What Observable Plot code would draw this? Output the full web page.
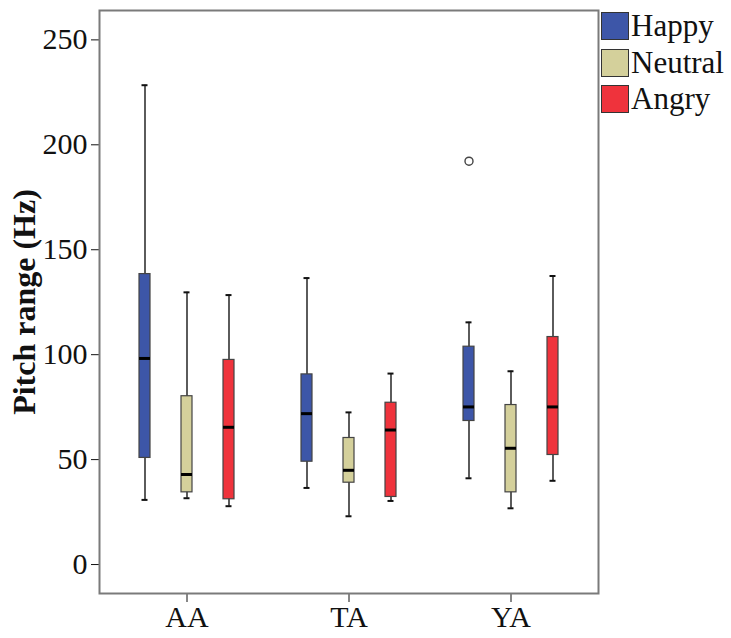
<!DOCTYPE html>
<html>
<head>
<meta charset="utf-8">
<script src="https://cdn.jsdelivr.net/npm/d3@7"></script>
<script src="https://cdn.jsdelivr.net/npm/@observablehq/plot@0.6"></script>
<style>
  html, body { margin: 0; padding: 0; background: #fff; }
  #wrap { position: relative; width: 731px; height: 638px; }
  #legend { position: absolute; left: 601px; top: 8px; font-family: "Liberation Serif", serif; font-size: 31px; color: #111; }
  .row { display: flex; align-items: center; height: 36.5px; }
  .sw { width: 28px; height: 28px; border: 1px solid #333; box-sizing: border-box; margin-right: 2px; }
  svg [aria-label="y-axis label"] text, svg [aria-label="y-axis label"] { font-weight: bold; font-size: 32px; }
</style>
</head>
<body>
<div id="wrap"></div>
<script>
const groups = ["AA", "TA", "YA"];
const emotions = ["Happy", "Neutral", "Angry"];
const colors = ["#3d56a8", "#d4d09b", "#ef333c"];
// order: AA(Happy, Neutral, Angry), TA(...), YA(...)
const whiskerLow  = [30.8, 31.6, 27.8,  36.5, 23.0, 30.3,  41.1, 26.8, 39.9];
const quartile1   = [50.8, 34.4, 31.1,  49.0, 39.0, 32.2,  68.4, 34.4, 52.2];
const medians     = [98.2, 42.9, 65.4,  71.9, 44.9, 64.1,  75.1, 55.4, 75.1];
const quartile3   = [138.4, 80.2, 97.5, 90.6, 60.3, 77.1,  103.8, 76.0, 108.4];
const whiskerHigh = [228.4, 129.7, 128.4, 136.5, 72.5, 91.0, 115.4, 92.1, 137.5];
const outlierGroup = ["YA"];
const outlierEmotion = ["Happy"];
const outlierValue = [192.2];
const yTicks = [0, 50, 100, 150, 200, 250];

const stats = groups.flatMap((g, i) => emotions.map((e, j) => {
  const k = i * 3 + j;
  return {group: g, emotion: e, lo: whiskerLow[k], q1: quartile1[k], med: medians[k], q3: quartile3[k], hi: whiskerHigh[k]};
}));
const outliers = outlierValue.map((v, i) => ({group: outlierGroup[i], emotion: outlierEmotion[i], value: v}));

const chart = Plot.plot({
  width: 731,
  height: 638,
  marginLeft: 99,
  marginRight: 133,
  marginTop: 10,
  marginBottom: 45,
  style: {fontFamily: "Liberation Serif, serif", fontSize: "30px", color: "#111", background: "transparent"},
  fx: {domain: groups, paddingInner: -0.08, paddingOuter: 0, label: null, axis: "bottom", tickSize: 9, tickPadding: 3},
  x: {domain: emotions, paddingInner: 0.744, paddingOuter: 0.907, axis: null},
  y: {domain: [-13.8, 264], ticks: yTicks, tickSize: 8, tickPadding: 4, label: "Pitch range (Hz)", labelArrow: false, labelAnchor: "center", labelOffset: 87},
  color: {domain: emotions, range: colors},
  marks: [
    Plot.frame({facet: "super", stroke: "#7a7a7a", strokeWidth: 2}),
    Plot.ruleX(stats, {fx: "group", x: "emotion", y1: "lo", y2: "hi", stroke: "#333", strokeWidth: 1.6}),
    Plot.tickY(stats, {fx: "group", x: "emotion", y: "lo", stroke: "#111", strokeWidth: 2, insetLeft: 2.5, insetRight: 2.5}),
    Plot.tickY(stats, {fx: "group", x: "emotion", y: "hi", stroke: "#111", strokeWidth: 2, insetLeft: 2.5, insetRight: 2.5}),
    Plot.barY(stats, {fx: "group", x: "emotion", y1: "q1", y2: "q3", fill: "emotion", stroke: "#444", strokeWidth: 1.2}),
    Plot.tickY(stats, {fx: "group", x: "emotion", y: "med", stroke: "#000", strokeWidth: 3}),
    Plot.dot(outliers, {fx: "group", x: "emotion", y: "value", r: 4, stroke: "#444", strokeWidth: 1.4, fill: "white"})
  ]
});

const wrap = document.getElementById("wrap");
wrap.appendChild(chart);
const legend = document.createElement("div");
legend.id = "legend";
emotions.forEach((e, i) => {
  const row = document.createElement("div");
  row.className = "row";
  const sw = document.createElement("div");
  sw.className = "sw";
  sw.style.background = colors[i];
  const label = document.createElement("span");
  label.textContent = e;
  row.appendChild(sw);
  row.appendChild(label);
  legend.appendChild(row);
});
wrap.appendChild(legend);
</script>
</body>
</html>
